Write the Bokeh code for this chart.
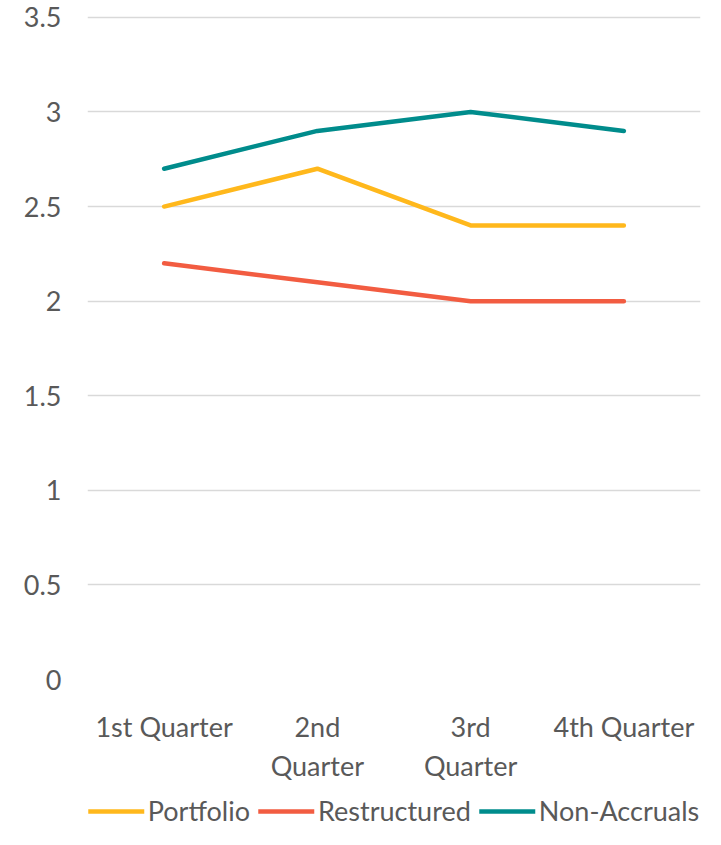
from bokeh.plotting import figure
from bokeh.layouts import column
from bokeh.models import FactorRange, Range1d, Legend, LegendItem, SingleIntervalTicker
from bokeh.embed import file_html
from bokeh.resources import INLINE

quarter_labels = ["1st Quarter", "2nd\nQuarter", "3rd\nQuarter", "4th Quarter"]
portfolio = [2.5, 2.7, 2.4, 2.4]
restructured = [2.2, 2.1, 2.0, 2.0]
non_accruals = [2.7, 2.9, 3.0, 2.9]
series_names = ["Portfolio", "Restructured", "Non-Accruals"]
series_colors = ["#FFB81C", "#F25C41", "#008C8C"]

FONT = "Lato"
TXT = "#595959"
FS = "27px"

p = figure(frame_width=613, frame_height=664, output_backend="svg", toolbar_location=None,
           x_range=FactorRange(*quarter_labels, range_padding=0),
           y_range=Range1d(0, 3.51),
           min_border_left=87, min_border_right=5, min_border_top=15, min_border_bottom=0)
p.outline_line_color = None
p.background_fill_color = "white"

series = [portfolio, restructured, non_accruals]
for vals, col in zip(series, series_colors):
    p.line(quarter_labels, vals, line_color=col, line_width=4.5, line_join="round", line_cap="round")

p.yaxis.ticker = SingleIntervalTicker(interval=0.5)
for ax in (p.xaxis, p.yaxis):
    ax.axis_line_color = None
    ax.major_tick_line_color = None
    ax.minor_tick_line_color = None
    ax.major_label_text_font = FONT
    ax.major_label_text_font_size = FS
    ax.major_label_text_color = TXT
p.yaxis.major_label_standoff = 20
p.xaxis.major_label_standoff = 24

p.xgrid.grid_line_color = None
p.ygrid.grid_line_color = "#D9D9D9"
p.ygrid.grid_line_width = 1.5

# legend in its own strip below the chart (series drawn out of view, only legend shows)
lg = figure(width=705, height=42, output_backend="svg", toolbar_location=None,
            x_range=FactorRange(*quarter_labels), y_range=Range1d(-2, -1),
            min_border=0, min_border_left=28, x_axis_location=None, y_axis_location=None)
lg.outline_line_color = None
lg.xgrid.grid_line_color = None
lg.ygrid.grid_line_color = None
items = []
for name, vals, col in zip(series_names, series, series_colors):
    r = lg.line(quarter_labels, vals, line_color=col, line_width=4.5, line_cap="round")
    items.append(LegendItem(label=name, renderers=[r]))
legend = Legend(items=items, orientation="horizontal", location="bottom_center",
                label_text_font=FONT, label_text_font_size=FS, label_text_color=TXT,
                glyph_width=56, label_standoff=4, spacing=8, padding=0, margin=0,
                border_line_color=None, background_fill_alpha=0)
lg.add_layout(legend, "center")

layout = column(p, lg, spacing=0)
open("out.html", "w").write(file_html(layout, INLINE))
